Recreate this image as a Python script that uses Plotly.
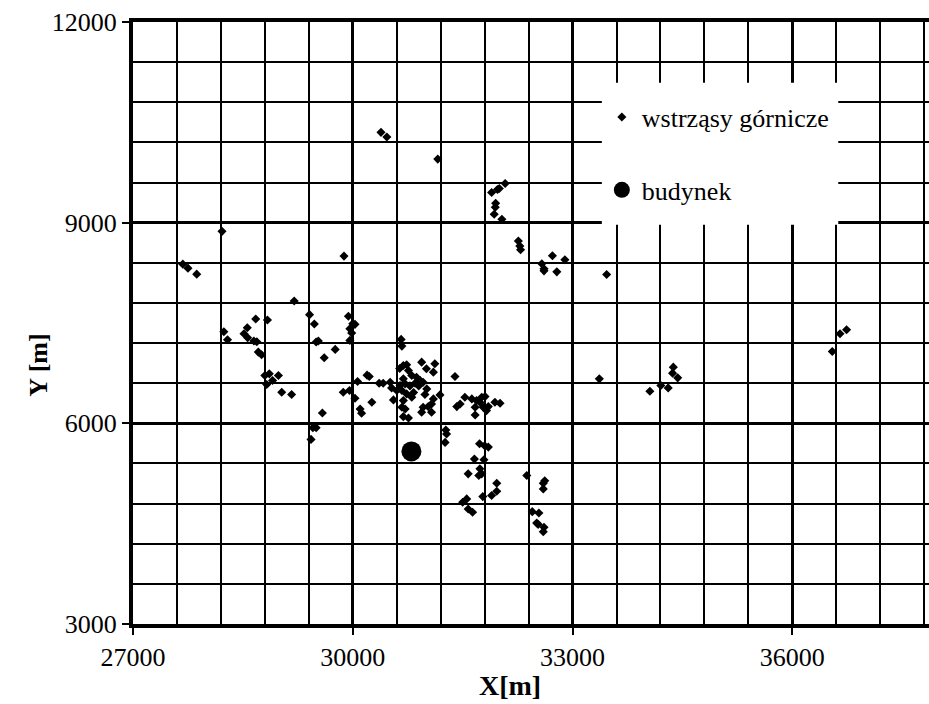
import plotly.graph_objects as go

# Mining tremors (wstrząsy górnicze)
quake_x = [27680, 27750, 27870, 28215, 29880, 29200, 29410, 29475, 29940, 30000,
           29960, 29985, 29960, 28675, 28835, 28560, 28240, 28290, 28515, 28565,
           28650, 28690, 29500, 29530, 29760, 28710, 28755, 28800, 28860, 28905,
           28825, 28985, 29030, 29165, 29610, 29585, 29455, 29500, 29430, 30030,
           30660, 30670, 30225, 30195, 30065, 30360, 30415, 30510, 30530, 29870,
           29955, 30030, 30260, 30100, 30120, 30690, 30735, 30940, 31120, 31005,
           31100, 30760, 30805, 30870, 30920, 30690, 30715, 30645, 30600, 30670,
           30735, 30805, 30690, 30555, 30670, 30715, 30690, 30760, 30960, 31010,
           30985, 31100, 31190, 31075, 30960, 30940, 31075, 31030, 31395, 31465,
           31420, 31530, 31625, 31690, 31760, 31805, 31735, 31670, 31780, 31825,
           31850, 31670, 31940, 32010, 31270, 31260, 31280, 31730, 31800, 31850,
           31660, 31790, 31735, 31760, 31720, 31575, 31965, 32375, 31965, 31895,
           31775, 31555, 31500, 31575, 31635, 32600, 32620, 32600, 32450, 32540,
           32510, 32530, 32610, 32600, 33365, 34055, 34205, 34305, 34375, 34365,
           34435, 36740, 36650, 36545, 31160, 31895, 31975, 32000, 32080, 31950,
           31945, 31930, 32035, 32260, 32280, 32290, 32725, 32895, 32580, 32610,
           32610, 32785, 33465, 30385, 30465, 30780, 30850, 30640, 30830, 30900]
quake_y = [8380, 8320, 8230, 8870, 8500, 7830, 7625, 7485, 7600, 7490,
           7415, 7350, 7240, 7560, 7545, 7430, 7370, 7250, 7340, 7280,
           7230, 7220, 7215, 7230, 7105, 7065, 7025, 6715, 6740, 6640,
           6580, 6715, 6465, 6430, 6980, 6155, 5935, 5935, 5760, 7480,
           7255, 7155, 6700, 6720, 6625, 6600, 6600, 6615, 6530, 6465,
           6490, 6375, 6315, 6215, 6150, 6865, 6875, 6915, 6890, 6815,
           6765, 6790, 6715, 6690, 6640, 6665, 6590, 6565, 6490, 6490,
           6440, 6390, 6340, 6350, 6240, 6215, 6100, 6080, 6615, 6515,
           6430, 6365, 6425, 6290, 6240, 6165, 6165, 6250, 6700, 6290,
           6250, 6390, 6365, 6340, 6390, 6400, 6315, 6240, 6240, 6190,
           6250, 6125, 6315, 6300, 5900, 5715, 5840, 5695, 5665, 5645,
           5465, 5455, 5320, 5245, 5220, 5245, 5105, 5220, 4985, 4920,
           4905, 4870, 4820, 4720, 4670, 5105, 5140, 5020, 4680, 4660,
           4510, 4490, 4445, 4380, 6665, 6480, 6565, 6530, 6840, 6750,
           6680, 7400, 7340, 7075, 9950, 9450, 9495, 9510, 9585, 9290,
           9230, 9125, 9050, 8725, 8650, 8595, 8505, 8445, 8385, 8310,
           8280, 8265, 8225, 10350, 10280, 6560, 6600, 6820, 6460, 6560]

# Building (budynek)
building_x = [30800]
building_y = [5580]

x_ticks = [27000, 30000, 33000, 36000]
y_ticks = [3000, 6000, 9000, 12000]

FONT = "Liberation Serif, Times New Roman, serif"

fig = go.Figure()
fig.add_trace(go.Scatter(
    x=quake_x, y=quake_y, mode="markers", name="wstrząsy górnicze",
    marker=dict(symbol="diamond", size=7, color="black", line=dict(width=0)),
    legendgroup="a",
))
fig.add_trace(go.Scatter(
    x=building_x, y=building_y, mode="markers", name="budynek",
    marker=dict(symbol="circle", size=20, color="black", line=dict(width=0)),
    legendgroup="b",
))

# white box behind legend
fig.add_shape(type="rect", xref="paper", yref="paper",
              x0=0.589, x1=0.886, y0=0.663, y1=0.899,
              fillcolor="white", line=dict(width=0), layer="above")

fig.update_xaxes(
    range=[27000, 37865], tickvals=x_ticks, ticktext=[str(v) for v in x_ticks],
    showgrid=True, gridcolor="black", gridwidth=3,
    minor=dict(dtick=600, tick0=27000, showgrid=True, gridcolor="black", gridwidth=1.5),
    showline=True, linecolor="black", linewidth=4, mirror=True,
    ticks="outside", ticklen=7, tickwidth=2, tickcolor="black",
    tickfont=dict(family=FONT, size=26, color="black"),
    zeroline=False,
)
fig.update_yaxes(
    range=[3000, 12000], tickvals=y_ticks, ticktext=[str(v) for v in y_ticks],
    showgrid=True, gridcolor="black", gridwidth=3,
    minor=dict(dtick=600, tick0=3000, showgrid=True, gridcolor="black", gridwidth=1.5),
    showline=True, linecolor="black", linewidth=4,
    ticks="outside", ticklen=7, tickwidth=2, tickcolor="black",
    tickfont=dict(family=FONT, size=26, color="black"),
    zeroline=False,
)

# axis titles (placed as in the original, not centred on the plot area)
fig.add_annotation(text="<b>X[m]</b>", xref="paper", yref="paper",
                   x=0.4736, y=0, yshift=-79, yanchor="bottom", showarrow=False,
                   font=dict(family=FONT, size=28, color="black"))
fig.add_annotation(text="<b>Y [m]</b>", xref="paper", yref="paper",
                   x=0, xshift=-111, y=0.43, textangle=-90, showarrow=False,
                   font=dict(family=FONT, size=26, color="black"))

fig.update_layout(
    width=929, height=704,
    margin=dict(l=133, r=0, t=22, b=80),
    paper_bgcolor="white", plot_bgcolor="white",
    showlegend=True,
    legend=dict(x=0.589, y=0.881, xanchor="left", yanchor="top",
                bgcolor="rgba(0,0,0,0)", borderwidth=0,
                font=dict(family=FONT, size=26, color="black"),
                tracegroupgap=36, itemwidth=30),
    font=dict(family=FONT, color="black"),
)

fig.write_html("out.html")
